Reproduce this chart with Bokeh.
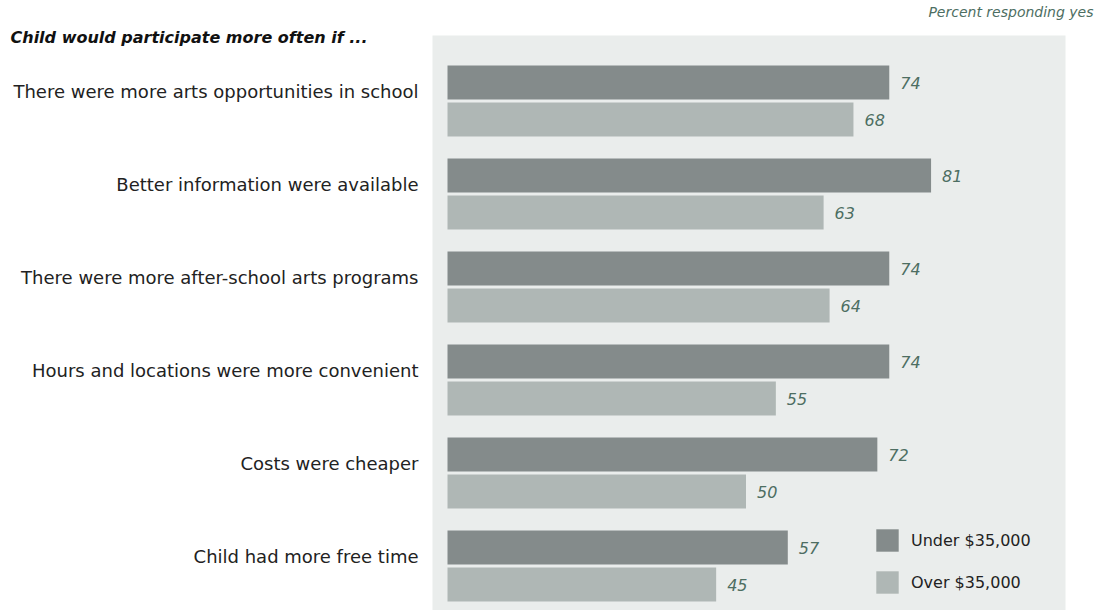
from bokeh.plotting import figure
from bokeh.models import Range1d, Label, Legend, LegendItem, ColumnDataSource
from bokeh.core.properties import value
from bokeh.embed import file_html
from bokeh.resources import INLINE

categories = [
    "There were more arts opportunities in school",
    "Better information were available",
    "There were more after-school arts programs",
    "Hours and locations were more convenient",
    "Costs were cheaper",
    "Child had more free time",
]
under_35k = [74, 81, 74, 74, 72, 57]
over_35k = [68, 63, 64, 55, 50, 45]
series_names = ["Under $35,000", "Over $35,000"]
title_text = "Child would participate more often if ..."
note_text = "Percent responding yes"

DARK = "#848b8b"
LIGHT = "#afb7b5"
PANEL = "#eaedec"
VALTXT = "#4d6e62"
FONT = "DejaVu Sans"

W, H = 1100, 610
PX_PER_UNIT = 5.97      # horizontal pixels per percent
ZERO_PX = 447           # pixel column of the zero line
ROW_PX = 93             # pixels per category row
ROW0_PX = 91            # pixel row of the first category label

x_start = -ZERO_PX / PX_PER_UNIT
x_end = x_start + W / PX_PER_UNIT
y_top = -ROW0_PX / ROW_PX
y_bot = (H - ROW0_PX) / ROW_PX

def xu(px):
    return (px - ZERO_PX) / PX_PER_UNIT

def yu(px):
    return (px - ROW0_PX) / ROW_PX

idx = list(range(len(categories)))
src_u = ColumnDataSource(dict(y=[i + yu(82) for i in idx], v=under_35k,
                              t=[str(v) for v in under_35k]))
src_o = ColumnDataSource(dict(y=[i + yu(119) for i in idx], v=over_35k,
                              t=[str(v) for v in over_35k]))
src_c = ColumnDataSource(dict(y=idx, c=categories, x=[xu(418)] * len(idx)))

p = figure(width=W, height=H, output_backend="svg", toolbar_location=None,
           x_range=Range1d(x_start, x_end), y_range=Range1d(y_bot, y_top),
           min_border=0)
p.background_fill_color = "white"
p.border_fill_color = "white"
p.outline_line_color = None
p.grid.visible = False
p.axis.visible = False

# grey panel behind the bars
p.quad(left=xu(432), right=xu(1065), top=yu(35), bottom=yu(H + 5),
       fill_color=PANEL, line_color=None)

bh = 34 / ROW_PX
r1 = p.hbar(y="y", right="v", left=0, height=bh, source=src_u, fill_color=DARK, line_color=None)
r2 = p.hbar(y="y", right="v", left=0, height=bh, source=src_o, fill_color=LIGHT, line_color=None)

for s in (src_u, src_o):
    p.text(x="v", y="y", text="t", source=s, x_offset=11, text_baseline="middle",
           text_align="left", text_font=value(FONT), text_font_style="italic",
           text_font_size="16px", text_color=VALTXT)

p.text(x="x", y="y", text="c", source=src_c, text_baseline="middle", text_align="right",
       text_font=value(FONT), text_font_size="18px", text_color="#222222")

legend = Legend(items=[LegendItem(label=series_names[0], renderers=[r1]),
                       LegendItem(label=series_names[1], renderers=[r2])],
                location=(873, H - 596), orientation="vertical",
                glyph_width=28, glyph_height=28, label_height=28, spacing=14,
                label_standoff=10, padding=0, margin=0,
                border_line_color=None, background_fill_alpha=0,
                label_text_font=FONT, label_text_font_size="16px",
                label_text_color="#222222")
p.add_layout(legend, "center")

p.add_layout(Label(x=10, y=H - 37, x_units="screen", y_units="screen", text=title_text,
                   text_font=FONT, text_font_style="bold italic", text_font_size="16px",
                   text_baseline="middle", text_align="left", text_color="#111111"))
p.add_layout(Label(x=1093, y=H - 11, x_units="screen", y_units="screen", text=note_text,
                   text_font=FONT, text_font_style="italic", text_font_size="14px",
                   text_baseline="middle", text_align="right", text_color=VALTXT))

open("out.html", "w").write(file_html(p, INLINE))
